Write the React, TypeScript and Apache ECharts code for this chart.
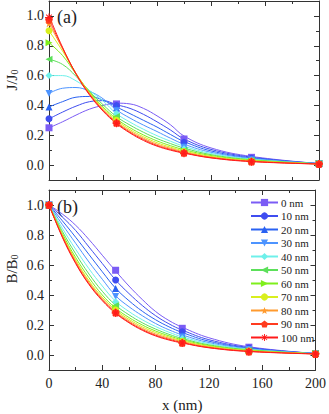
import React, { useEffect, useRef } from 'react';
import * as echarts from 'echarts';

const names = ['0 nm', '10 nm', '20 nm', '30 nm', '40 nm', '50 nm', '60 nm', '70 nm', '80 nm', '90 nm', '100 nm'];
const colors = ['#7b5cf5', '#3f4df0', '#2a62f2', '#4d94ff', '#6ef0ea', '#5ce05a', '#7fef1c', '#d9ef1e', '#ff9a2e', '#ff3b1f', '#ff1a1a'];

const xTickLabels = [0, 40, 80, 120, 160, 200];
const yTickValues = [0, 0.2, 0.4, 0.6, 0.8, 1.0];
const yMinorValues = [0.1, 0.3, 0.5, 0.7, 0.9];

// measured points
const xPoints = [0, 50, 100, 150, 200];
const jPoints = [
  [0.25, 0.41, 0.175, 0.052, 0.01],
  [0.31, 0.40, 0.152, 0.046, 0.01],
  [0.39, 0.385, 0.135, 0.041, 0.01],
  [0.48, 0.365, 0.12, 0.036, 0.01],
  [0.60, 0.345, 0.11, 0.032, 0.01],
  [0.71, 0.325, 0.10, 0.03, 0.01],
  [0.82, 0.31, 0.095, 0.028, 0.01],
  [0.90, 0.30, 0.09, 0.026, 0.008],
  [0.95, 0.29, 0.085, 0.025, 0.008],
  [0.975, 0.284, 0.082, 0.024, 0.007],
  [0.99, 0.28, 0.08, 0.022, 0.007],
];
const bPoints = [
  [1.0, 0.565, 0.178, 0.052, 0.01],
  [1.0, 0.50, 0.155, 0.046, 0.01],
  [1.0, 0.443, 0.135, 0.041, 0.01],
  [1.0, 0.39, 0.12, 0.036, 0.01],
  [1.0, 0.355, 0.11, 0.032, 0.01],
  [1.0, 0.33, 0.10, 0.03, 0.01],
  [1.0, 0.315, 0.095, 0.028, 0.01],
  [1.0, 0.30, 0.09, 0.026, 0.008],
  [1.0, 0.29, 0.085, 0.025, 0.008],
  [1.0, 0.283, 0.082, 0.024, 0.007],
  [1.0, 0.28, 0.08, 0.022, 0.007],
];

// fitted curves
const xCurve = [0, 10, 20, 30, 40, 50, 60, 70, 80, 90, 100, 120, 150, 200];
const jCurves = [
  [0.25, 0.29, 0.335, 0.375, 0.40, 0.415, 0.41, 0.38, 0.33, 0.27, 0.195, 0.115, 0.058, 0.01],
  [0.31, 0.355, 0.395, 0.425, 0.432, 0.405, 0.38, 0.34, 0.29, 0.235, 0.175, 0.105, 0.053, 0.01],
  [0.39, 0.425, 0.455, 0.46, 0.435, 0.39, 0.345, 0.30, 0.255, 0.205, 0.158, 0.095, 0.048, 0.01],
  [0.48, 0.515, 0.52, 0.495, 0.445, 0.37, 0.315, 0.268, 0.225, 0.18, 0.14, 0.086, 0.044, 0.01],
  [0.60, 0.60, 0.565, 0.50, 0.43, 0.345, 0.288, 0.24, 0.197, 0.16, 0.126, 0.078, 0.04, 0.009],
  [0.71, 0.675, 0.595, 0.495, 0.405, 0.325, 0.268, 0.22, 0.178, 0.144, 0.114, 0.07, 0.036, 0.009],
  [0.82, 0.735, 0.61, 0.49, 0.39, 0.31, 0.25, 0.202, 0.162, 0.13, 0.103, 0.064, 0.033, 0.008],
  [0.90, 0.765, 0.615, 0.485, 0.38, 0.30, 0.238, 0.19, 0.15, 0.12, 0.095, 0.058, 0.03, 0.008],
  [0.95, 0.78, 0.615, 0.48, 0.372, 0.29, 0.228, 0.18, 0.14, 0.112, 0.088, 0.054, 0.027, 0.008],
  [0.975, 0.785, 0.612, 0.475, 0.367, 0.284, 0.22, 0.172, 0.132, 0.105, 0.083, 0.05, 0.025, 0.007],
  [1.0, 0.79, 0.61, 0.47, 0.362, 0.278, 0.215, 0.165, 0.127, 0.10, 0.08, 0.048, 0.023, 0.007],
];
const bCurves = [
  [1.0, 0.94, 0.865, 0.77, 0.665, 0.56, 0.46, 0.37, 0.29, 0.23, 0.185, 0.115, 0.055, 0.01],
  [1.0, 0.92, 0.83, 0.72, 0.61, 0.50, 0.41, 0.33, 0.262, 0.208, 0.166, 0.102, 0.05, 0.01],
  [1.0, 0.895, 0.785, 0.67, 0.555, 0.445, 0.362, 0.292, 0.235, 0.188, 0.15, 0.092, 0.046, 0.01],
  [1.0, 0.87, 0.745, 0.62, 0.505, 0.395, 0.322, 0.262, 0.21, 0.168, 0.134, 0.083, 0.042, 0.009],
  [1.0, 0.845, 0.705, 0.575, 0.46, 0.358, 0.29, 0.235, 0.19, 0.152, 0.121, 0.076, 0.038, 0.009],
  [1.0, 0.825, 0.675, 0.54, 0.425, 0.332, 0.268, 0.215, 0.173, 0.138, 0.11, 0.068, 0.035, 0.008],
  [1.0, 0.81, 0.65, 0.515, 0.40, 0.312, 0.25, 0.20, 0.16, 0.128, 0.102, 0.063, 0.032, 0.008],
  [1.0, 0.80, 0.635, 0.495, 0.385, 0.30, 0.238, 0.188, 0.15, 0.12, 0.095, 0.058, 0.029, 0.008],
  [1.0, 0.795, 0.625, 0.485, 0.375, 0.29, 0.228, 0.178, 0.14, 0.112, 0.089, 0.054, 0.027, 0.008],
  [1.0, 0.79, 0.615, 0.475, 0.368, 0.283, 0.22, 0.17, 0.132, 0.105, 0.083, 0.05, 0.025, 0.007],
  [1.0, 0.785, 0.61, 0.47, 0.362, 0.278, 0.215, 0.165, 0.127, 0.10, 0.08, 0.048, 0.023, 0.007],
];

const STAR = 'path://M0,-10L2.35,-3.24L9.51,-3.09L3.8,1.24L5.88,8.09L0,4L-5.88,8.09L-3.8,1.24L-9.51,-3.09L-2.35,-3.24Z';
const PENTAGON = 'path://M0,-10L9.51,-3.09L5.88,8.09L-5.88,8.09L-9.51,-3.09Z';
const ASTERISK = 'path://M-10,-1.3L10,-1.3L10,1.3L-10,1.3ZM-1.3,-10L1.3,-10L1.3,10L-1.3,10ZM-6.15,-7.85L7.85,6.15L6.15,7.85L-7.85,-6.15ZM6.15,-7.85L7.85,-6.15L-6.15,7.85L-7.85,6.15Z';
const symbols = ['rect', 'circle', 'triangle', 'triangle', 'diamond', 'triangle', 'triangle', 'circle', STAR, PENTAGON, ASTERISK];
const rotations = [0, 0, 0, 180, 0, 90, -90, 0, 0, 0, 0];

const FONT = "'Liberation Serif', 'Times New Roman', serif";
const INK = '#222';
const lineCol = { color: '#333', width: 1 };

function xAxesFor(grid: number, labels: boolean) {
  const base = {
    type: 'value',
    gridIndex: grid,
    min: xTickLabels[0],
    max: xTickLabels[xTickLabels.length - 1],
    interval: 40,
    axisLine: { show: true, onZero: false, lineStyle: lineCol },
    axisTick: { show: true, inside: true, length: 5, lineStyle: lineCol },
    minorTick: { show: true, splitNumber: 2, length: 3, lineStyle: lineCol },
    splitLine: { show: false },
    minorSplitLine: { show: false },
  };
  return [
    {
      ...base,
      position: 'bottom',
      axisLabel: { show: labels, fontFamily: FONT, fontSize: 14, color: INK, margin: 6 },
      name: labels ? 'x (nm)' : '',
      nameLocation: 'middle',
      nameGap: 27,
      nameTextStyle: { fontFamily: FONT, fontSize: 15, color: INK },
    },
    { ...base, position: 'top', axisLabel: { show: false } },
  ];
}

function yAxesFor(grid: number) {
  const base = {
    type: 'value',
    gridIndex: grid,
    min: -0.1,
    max: 1.1,
    splitLine: { show: false },
  };
  const out: any[] = [];
  for (const pos of ['left', 'right']) {
    out.push({
      ...base,
      position: pos,
      axisLine: { show: true, onZero: false, lineStyle: lineCol },
      axisTick: { show: true, inside: true, length: 5, lineStyle: lineCol, customValues: yTickValues },
      axisLabel: {
        show: pos === 'left',
        customValues: yTickValues,
        formatter: (v: number) => v.toFixed(1),
        fontFamily: FONT,
        fontSize: 14,
        color: INK,
        margin: 5,
      },
    });
    out.push({
      ...base,
      position: pos,
      axisLine: { show: false, onZero: false },
      axisTick: { show: true, inside: true, length: 3, lineStyle: lineCol, customValues: yMinorValues },
      axisLabel: { show: false },
    });
  }
  return out;
}

function seriesFor(grid: number, curves: number[][], points: number[][]) {
  const out: any[] = [];
  names.forEach((n, i) => {
    out.push({
      type: 'line',
      name: n,
      xAxisIndex: grid * 2,
      yAxisIndex: grid * 4,
      data: xCurve.map((x, k) => [x, curves[i][k]]),
      smooth: 0.4,
      showSymbol: false,
      symbol: symbols[i],
      symbolRotate: rotations[i],
      lineStyle: { width: 1, color: colors[i] },
      itemStyle: { color: colors[i] },
      z: 2,
      silent: true,
    });
  });
  names.forEach((n, i) => {
    out.push({
      type: 'scatter',
      name: n + ' data',
      xAxisIndex: grid * 2,
      yAxisIndex: grid * 4,
      data: xPoints.map((x, k) => [x, points[i][k]]),
      symbol: symbols[i],
      symbolRotate: rotations[i],
      symbolSize: i >= 8 ? 8 : 7,
      itemStyle: { color: colors[i], opacity: 1 },
      z: 3,
      silent: true,
    });
  });
  return out;
}

function yName(text: string, y: number) {
  return {
    type: 'text',
    x: 11,
    y,
    rotation: Math.PI / 2,
    style: {
      text: `{m|${text}}{s|0}`,
      align: 'center',
      verticalAlign: 'middle',
      fill: INK,
      rich: {
        m: { fontFamily: FONT, fontSize: 15, fill: INK, lineHeight: 16, verticalAlign: 'bottom' },
        s: { fontFamily: FONT, fontSize: 10, fill: INK, lineHeight: 6, verticalAlign: 'bottom' },
      },
    },
  };
}

export default function App() {
  const ref = useRef<HTMLDivElement>(null);
  useEffect(() => {
    if (!ref.current) return;
    const chart = echarts.init(ref.current, undefined, { renderer: 'svg' });
    chart.setOption({
      animation: false,
      backgroundColor: '#fff',
      grid: [
        { left: 49, width: 270, top: 1, height: 179 },
        { left: 49, width: 270, top: 190, height: 180 },
      ],
      xAxis: [...xAxesFor(0, false), ...xAxesFor(1, true)],
      yAxis: [...yAxesFor(0), ...yAxesFor(1)],
      legend: {
        data: names,
        orient: 'vertical',
        left: 250,
        top: 197,
        padding: 0,
        itemWidth: 27,
        itemHeight: 9,
        itemGap: 2.5,
        selectedMode: false,
        textStyle: { fontFamily: FONT, fontSize: 11, color: INK, padding: [0, 0, 0, -2] },
      },
      graphic: [
        yName('J/J', 80),
        yName('B/B', 269),
        { type: 'text', x: 57, y: 17, style: { text: '(a)', fontFamily: FONT, fontSize: 18, fill: INK, verticalAlign: 'middle' } },
        { type: 'text', x: 57, y: 207, style: { text: '(b)', fontFamily: FONT, fontSize: 18, fill: INK, verticalAlign: 'middle' } },
      ],
      series: [...seriesFor(0, jCurves, jPoints), ...seriesFor(1, bCurves, bPoints)],
    });
    return () => chart.dispose();
  }, []);
  return <div ref={ref} style={{ position: 'absolute', left: 0, top: 0, width: 329, height: 414, background: '#fff' }} />;
}
